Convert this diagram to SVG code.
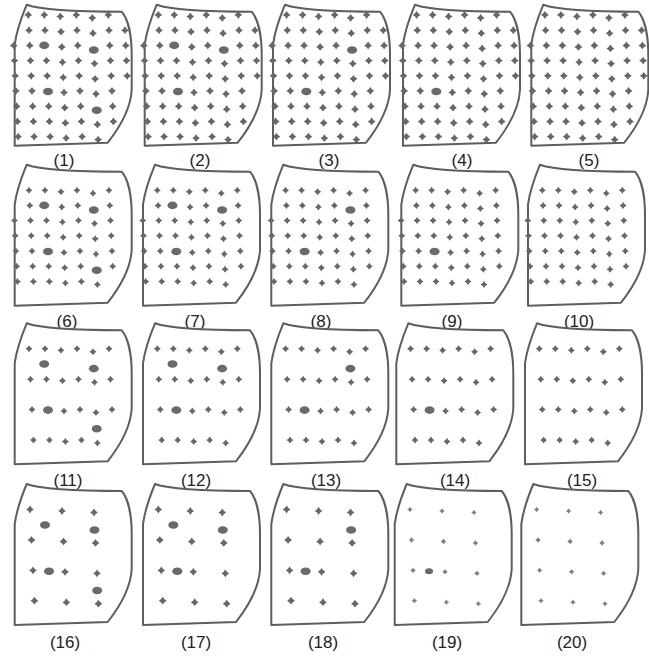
<svg xmlns="http://www.w3.org/2000/svg" xmlns:xlink="http://www.w3.org/1999/xlink" width="649" height="656" viewBox="0 0 649 656">
<style>
.ol{fill:#fff;stroke:#5e5e5e;stroke-width:2;stroke-linejoin:round}
.dt{fill:#676767}
.lt{fill:#7e7e7e}
.big{fill:#6a6a6a}
.lab{font-family:"Liberation Sans",Arial,sans-serif;font-size:17px;fill:#222;text-anchor:middle}
</style>
<defs>
<path id="o" class="ol" d="M0,0 C14,5 45,7 95,7 C101,14 105,30 105,50 L105,85 C104,105 92,124 81,138 L-12,141 L-12,40 C-10,25 -5,12 0,0 Z"/>
<path id="d" class="dt" d="M0,-3.9 Q1.3,-1.3 3.9,0 Q1.3,1.3 0,3.9 Q-1.3,1.3 -3.9,0 Q-1.3,-1.3 0,-3.9Z"/>
<path id="d2" class="dt" d="M0,-3.5 Q1.15,-1.15 3.5,0 Q1.15,1.15 0,3.5 Q-1.15,1.15 -3.5,0 Q-1.15,-1.15 0,-3.5Z"/>
<path id="d3" class="lt" d="M0,-2.8 Q0.85,-0.85 2.8,0 Q0.85,0.85 0,2.8 Q-0.85,0.85 -2.8,0 Q-0.85,-0.85 0,-2.8Z"/>
<ellipse id="e" class="big" rx="5" ry="3.8"/>
<g id="g1">
<use href="#d" x="1.6" y="10.3"/><use href="#d" x="17.6" y="10.3"/><use href="#d" x="33.6" y="11.8"/><use href="#d" x="49.6" y="10.3"/><use href="#d" x="65.6" y="13.3"/><use href="#d" x="81.6" y="10.3"/>
<use href="#d" x="2.3" y="25.5"/><use href="#d" x="18.3" y="25.5"/><use href="#d" x="34.3" y="27"/><use href="#d" x="50.3" y="25.5"/><use href="#d" x="66.3" y="28.5"/><use href="#d" x="82.3" y="25.5"/><use href="#d" x="98.3" y="25.5"/>
<use href="#d" x="-12.9" y="40.7"/><use href="#d" x="3.1" y="40.7"/><use href="#d" x="35.1" y="42.2"/><use href="#d" x="51.1" y="40.7"/><use href="#d" x="83.1" y="40.7"/><use href="#d" x="99.1" y="40.7"/>
<use href="#d" x="-12.2" y="55.9"/><use href="#d" x="3.8" y="55.9"/><use href="#d" x="19.8" y="55.9"/><use href="#d" x="35.8" y="57.4"/><use href="#d" x="51.8" y="55.9"/><use href="#d" x="67.8" y="58.9"/><use href="#d" x="83.8" y="55.9"/><use href="#d" x="99.8" y="55.9"/>
<use href="#d" x="-11.5" y="71.1"/><use href="#d" x="4.5" y="71.1"/><use href="#d" x="20.5" y="71.1"/><use href="#d" x="36.5" y="72.6"/><use href="#d" x="52.5" y="71.1"/><use href="#d" x="68.5" y="74.1"/><use href="#d" x="84.5" y="71.1"/><use href="#d" x="100.5" y="71.1"/>
<use href="#d" x="-10.8" y="86.3"/><use href="#d" x="5.3" y="86.3"/><use href="#d" x="37.3" y="87.8"/><use href="#d" x="53.3" y="86.3"/><use href="#d" x="69.3" y="89.3"/><use href="#d" x="85.3" y="86.3"/>
<use href="#d" x="-10" y="101.5"/><use href="#d" x="6" y="101.5"/><use href="#d" x="22" y="101.5"/><use href="#d" x="38" y="103"/><use href="#d" x="54" y="101.5"/><use href="#d" x="86" y="101.5"/>
<use href="#d" x="-9.3" y="116.7"/><use href="#d" x="6.7" y="116.7"/><use href="#d" x="22.7" y="116.7"/><use href="#d" x="38.7" y="118.2"/><use href="#d" x="54.7" y="116.7"/><use href="#d" x="70.7" y="119.7"/><use href="#d" x="86.7" y="116.7"/>
<use href="#d" x="-8.6" y="131.9"/><use href="#d" x="7.4" y="131.9"/><use href="#d" x="23.4" y="131.9"/><use href="#d" x="39.4" y="133.4"/><use href="#d" x="55.4" y="131.9"/><use href="#d" x="71.4" y="134.9"/>
</g>
<g id="g2">
<use href="#d2" x="2.3" y="25.5"/><use href="#d2" x="18.3" y="25.5"/><use href="#d2" x="34.3" y="27"/><use href="#d2" x="50.3" y="25.5"/><use href="#d2" x="66.3" y="28.5"/><use href="#d2" x="82.3" y="25.5"/>
<use href="#d2" x="3.1" y="40.7"/><use href="#d2" x="35.1" y="42.2"/><use href="#d2" x="51.1" y="40.7"/><use href="#d2" x="83.1" y="40.7"/>
<use href="#d2" x="-12.2" y="55.9"/><use href="#d2" x="3.8" y="55.9"/><use href="#d2" x="19.8" y="55.9"/><use href="#d2" x="35.8" y="57.4"/><use href="#d2" x="51.8" y="55.9"/><use href="#d2" x="67.8" y="58.9"/><use href="#d2" x="83.8" y="55.9"/>
<use href="#d2" x="-11.5" y="71.1"/><use href="#d2" x="4.5" y="71.1"/><use href="#d2" x="20.5" y="71.1"/><use href="#d2" x="36.5" y="72.6"/><use href="#d2" x="52.5" y="71.1"/><use href="#d2" x="68.5" y="74.1"/><use href="#d2" x="84.5" y="71.1"/>
<use href="#d2" x="-10.8" y="86.3"/><use href="#d2" x="5.3" y="86.3"/><use href="#d2" x="37.3" y="87.8"/><use href="#d2" x="53.3" y="86.3"/><use href="#d2" x="69.3" y="89.3"/><use href="#d2" x="85.3" y="86.3"/>
<use href="#d2" x="-10" y="101.5"/><use href="#d2" x="6" y="101.5"/><use href="#d2" x="22" y="101.5"/><use href="#d2" x="38" y="103"/><use href="#d2" x="54" y="101.5"/><use href="#d2" x="86" y="101.5"/>
<use href="#d2" x="-9.3" y="116.7"/><use href="#d2" x="6.7" y="116.7"/><use href="#d2" x="22.7" y="116.7"/><use href="#d2" x="38.7" y="118.2"/><use href="#d2" x="54.7" y="116.7"/><use href="#d2" x="70.7" y="119.7"/>
</g>
<g id="g3">
<use href="#d2" x="2.3" y="25.5"/><use href="#d2" x="18.3" y="25.5"/><use href="#d2" x="34.3" y="27"/><use href="#d2" x="50.3" y="25.5"/><use href="#d2" x="66.3" y="28.5"/><use href="#d2" x="82.3" y="25.5"/>
<use href="#d2" x="3.8" y="55.9"/><use href="#d2" x="19.8" y="55.9"/><use href="#d2" x="35.8" y="57.4"/><use href="#d2" x="51.8" y="55.9"/><use href="#d2" x="67.8" y="58.9"/><use href="#d2" x="83.8" y="55.9"/>
<use href="#d2" x="5.3" y="86.3"/><use href="#d2" x="37.3" y="87.8"/><use href="#d2" x="53.3" y="86.3"/><use href="#d2" x="69.3" y="89.3"/><use href="#d2" x="85.3" y="86.3"/>
<use href="#d2" x="6.7" y="116.7"/><use href="#d2" x="22.7" y="116.7"/><use href="#d2" x="38.7" y="118.2"/><use href="#d2" x="54.7" y="116.7"/><use href="#d2" x="70.7" y="119.7"/>
</g>
<g id="g4">
<use href="#d" x="3.3" y="25.5"/><use href="#d" x="35.3" y="27"/><use href="#d" x="67.3" y="28.5"/>
<use href="#d" x="4.8" y="55.9"/><use href="#d" x="36.8" y="57.4"/><use href="#d" x="68.8" y="58.9"/>
<use href="#d" x="6.3" y="86.3"/><use href="#d" x="38.3" y="87.8"/><use href="#d" x="70.3" y="89.3"/>
<use href="#d" x="7.7" y="116.7"/><use href="#d" x="39.7" y="118.2"/><use href="#d" x="71.7" y="119.7"/>
</g>
<g id="g4s">
<use href="#d3" x="3.3" y="25.5"/><use href="#d3" x="35.3" y="27"/><use href="#d3" x="67.3" y="28.5"/>
<use href="#d3" x="4.8" y="55.9"/><use href="#d3" x="36.8" y="57.4"/><use href="#d3" x="68.8" y="58.9"/>
<use href="#d3" x="6.3" y="86.3"/><use href="#d3" x="38.3" y="87.8"/><use href="#d3" x="70.3" y="89.3"/>
<use href="#d3" x="7.7" y="116.7"/><use href="#d3" x="39.7" y="118.2"/><use href="#d3" x="71.7" y="119.7"/>
</g>
</defs>
<rect width="649" height="656" fill="#fff"/>
<g id="connectors"/>

<!-- Row 1 -->
<g id="panel-1"><g transform="translate(26.7,4.7)"><use href="#o"/><use href="#g1"/>
<use href="#e" x="17.5" y="40.7"/><use href="#e" x="67.1" y="45.3"/><use href="#e" x="21.3" y="86.8"/><use href="#e" x="70" y="105.5"/></g>
<text class="lab" x="64" y="166">(1)</text></g>
<g id="panel-2"><g transform="translate(156.7,4.7)"><use href="#o"/><use href="#g1"/>
<use href="#e" x="17.5" y="40.7"/><use href="#e" x="67.1" y="45.3"/><use href="#e" x="21.3" y="86.8"/><use href="#d" x="70" y="104.5"/></g>
<text class="lab" x="200" y="166">(2)</text></g>
<g id="panel-3"><g transform="translate(285,4.7)"><use href="#o"/><use href="#g1"/>
<use href="#d" x="19.1" y="40.7"/><use href="#e" x="67.1" y="45.3"/><use href="#e" x="21.3" y="86.8"/><use href="#d" x="70" y="104.5"/></g>
<text class="lab" x="329" y="166">(3)</text></g>
<g id="panel-4"><g transform="translate(415,4.7)"><use href="#o"/><use href="#g1"/>
<use href="#d" x="19.1" y="40.7"/><use href="#d" x="67.1" y="43.7"/><use href="#e" x="21.3" y="86.8"/><use href="#d" x="70" y="104.5"/></g>
<text class="lab" x="462" y="166">(4)</text></g>
<g id="panel-5"><g transform="translate(543.3,4.7)"><use href="#o"/><use href="#g1"/>
<use href="#d" x="19.1" y="40.7"/><use href="#d" x="67.1" y="43.7"/><use href="#d" x="21.3" y="86.3"/><use href="#d" x="70" y="104.5"/></g>
<text class="lab" x="589" y="166">(5)</text></g>

<!-- Row 2 -->
<g id="panel-6"><g transform="translate(26.7,164.7)"><use href="#o"/><use href="#g2"/>
<use href="#e" x="17.5" y="40.7"/><use href="#e" x="67.1" y="45.3"/><use href="#e" x="21.3" y="86.8"/><use href="#e" x="70" y="105.5"/></g>
<text class="lab" x="67" y="327">(6)</text></g>
<g id="panel-7"><g transform="translate(155,164.7)"><use href="#o"/><use href="#g2"/>
<use href="#e" x="17.5" y="40.7"/><use href="#e" x="67.1" y="45.3"/><use href="#e" x="21.3" y="86.8"/><use href="#d2" x="70" y="104.5"/></g>
<text class="lab" x="195" y="327">(7)</text></g>
<g id="panel-8"><g transform="translate(283.3,164.7)"><use href="#o"/><use href="#g2"/>
<use href="#d2" x="19.1" y="40.7"/><use href="#e" x="67.1" y="45.3"/><use href="#e" x="21.3" y="86.8"/><use href="#d2" x="70" y="104.5"/></g>
<text class="lab" x="321" y="327">(8)</text></g>
<g id="panel-9"><g transform="translate(413.3,164.7)"><use href="#o"/><use href="#g2"/>
<use href="#d2" x="19.1" y="40.7"/><use href="#d2" x="67.1" y="43.7"/><use href="#e" x="21.3" y="86.8"/><use href="#d2" x="70" y="104.5"/></g>
<text class="lab" x="452" y="327">(9)</text></g>
<g id="panel-10"><g transform="translate(540,164.7)"><use href="#o"/><use href="#g2"/>
<use href="#d2" x="19.1" y="40.7"/><use href="#d2" x="67.1" y="43.7"/><use href="#d2" x="21.3" y="86.3"/><use href="#d2" x="70" y="104.5"/></g>
<text class="lab" x="579" y="327">(10)</text></g>

<!-- Row 3 -->
<g id="panel-11"><g transform="translate(26.7,323.3)"><use href="#o"/><use href="#g3"/>
<use href="#e" x="17.5" y="40.7"/><use href="#e" x="67.1" y="45.3"/><use href="#e" x="21.3" y="86.8"/><use href="#e" x="70" y="105.5"/></g>
<text class="lab" x="68" y="486">(11)</text></g>
<g id="panel-12"><g transform="translate(155,323.3)"><use href="#o"/><use href="#g3"/>
<use href="#e" x="17.5" y="40.7"/><use href="#e" x="67.1" y="45.3"/><use href="#e" x="21.3" y="86.8"/></g>
<text class="lab" x="196" y="486">(12)</text></g>
<g id="panel-13"><g transform="translate(283.3,323.3)"><use href="#o"/><use href="#g3"/>
<use href="#e" x="67.1" y="45.3"/><use href="#e" x="21.3" y="86.8"/></g>
<text class="lab" x="326" y="486">(13)</text></g>
<g id="panel-14"><g transform="translate(408.3,323.3)"><use href="#o"/><use href="#g3"/>
<use href="#e" x="21.3" y="86.8"/></g>
<text class="lab" x="455" y="486">(14)</text></g>
<g id="panel-15"><g transform="translate(537,323.3)"><use href="#o"/><use href="#g3"/>
<use href="#d2" x="21.3" y="86.3"/></g>
<text class="lab" x="582" y="486">(15)</text></g>

<!-- Row 4 -->
<g id="panel-16"><g transform="translate(26.7,484)"><use href="#o"/><use href="#g4"/>
<use href="#e" x="18.3" y="41"/><use href="#e" x="67.8" y="46"/><use href="#e" x="22.3" y="87.3"/><use href="#e" x="70.5" y="106.5"/></g>
<text class="lab" x="65" y="648">(16)</text></g>
<g id="panel-17"><g transform="translate(155,484)"><use href="#o"/><use href="#g4"/>
<use href="#e" x="18.3" y="41"/><use href="#e" x="67.8" y="46"/><use href="#e" x="22.3" y="87.3"/></g>
<text class="lab" x="196" y="648">(17)</text></g>
<g id="panel-18"><g transform="translate(283.3,484)"><use href="#o"/><use href="#g4"/>
<use href="#e" x="67.8" y="46"/><use href="#e" x="22.3" y="87.3"/></g>
<text class="lab" x="323" y="648">(18)</text></g>
<g id="panel-19"><g transform="translate(406.7,484)"><use href="#o"/><use href="#g4s"/>
<use href="#e" x="22.3" y="87.3" transform="translate(22.3,87.3) scale(0.8) translate(-22.3,-87.3)"/></g>
<text class="lab" x="447" y="648">(19)</text></g>
<g id="panel-20"><g transform="translate(533.3,484)"><use href="#o"/><use href="#g4s"/></g>
<text class="lab" x="572" y="648">(20)</text></g>
</svg>
